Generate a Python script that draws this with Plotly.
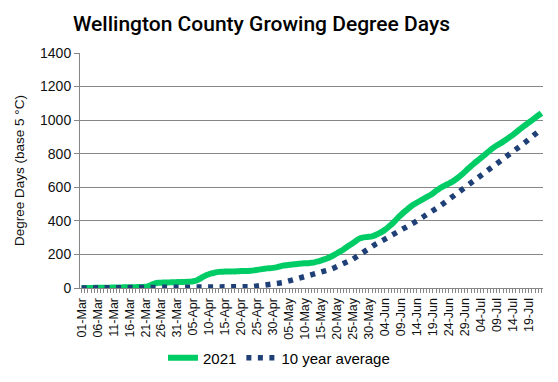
import plotly.graph_objects as go
import pandas as pd

# Categories: daily from 01-Mar to 23-Jul
dates = pd.date_range("2021-03-01", "2021-07-23", freq="D")
categories = [d.strftime("%d-%b") for d in dates]

# 2021 cumulative growing degree days (base 5 C)
gdd_2021 = [
    0, 0, 0, 0, 1, 1, 1, 2, 2, 2, 3, 3, 3, 4, 4, 5, 5, 5, 6, 6, 7,
    12, 20, 27, 31, 32, 33, 33, 34, 34, 35, 35, 36, 37, 38, 40, 45, 55, 66, 76,
    83, 88, 93, 96, 97, 98, 98, 99, 99, 100, 101, 101, 102, 103, 105, 108, 111, 114, 117, 118,
    120, 123, 128, 133, 136, 138, 140, 142, 144, 146, 147, 148, 150, 153, 158, 164, 170, 177, 186, 196,
    207, 218, 230, 243, 256, 268, 282, 294, 300, 303, 305, 308, 315, 324, 334, 347, 362, 378, 397, 417,
    435, 452, 468, 484, 497, 509, 519, 530, 541, 551, 563, 578, 592, 603, 613, 622, 632, 645, 659, 675,
    692, 710, 727, 743, 759, 774, 789, 806, 822, 836, 849, 860, 872, 885, 898, 911, 926, 942, 957, 971,
    985, 999, 1013, 1028, 1042,
]

# 10 year average cumulative growing degree days
gdd_avg = [
    0, 0, 0, 0, 0, 0, 0, 0, 0, 0, 0, 0, 0, 0, 0, 0, 0, 0, 0, 0,
    0, 0, 0, 0, 0, 0, 1, 1, 1, 1, 1, 1, 1, 1, 1, 1, 1, 1,
    1, 2, 2, 2, 2, 2, 3, 3, 3, 3, 4, 4, 5, 6, 7, 8, 9, 11, 12, 14, 15, 17,
    19, 23, 27, 32, 37, 42, 47, 52, 58, 63, 68, 73, 77, 81, 85, 89, 96, 104, 111, 119,
    127, 135, 143, 152, 162, 172, 185, 199, 213, 226, 238, 250, 260, 270, 280, 290, 299, 309, 319, 329,
    339, 350, 362, 375, 388, 400, 411, 422, 432, 445, 458, 471, 485, 499, 513, 526, 540, 553, 567, 581,
    595, 608, 621, 634, 648, 663, 677, 692, 707, 722, 737, 752, 766, 780, 795, 810, 824, 839, 854, 869,
    884, 900, 915, 931, 947,
]

y_ticks = [0, 200, 400, 600, 800, 1000, 1200, 1400]
tick_text = [c if i % 5 == 0 else "" for i, c in enumerate(categories)]

fig = go.Figure()
fig.add_trace(go.Scatter(
    x=categories, y=gdd_2021, name="2021", mode="lines",
    line=dict(color="#00cc66", width=6, shape="spline", smoothing=0.6),
))
fig.add_trace(go.Scatter(
    x=categories, y=gdd_avg, name="10 year average", mode="lines",
    line=dict(color="#1f3f77", width=5.5, dash="5px,6.5px"),
))

fig.update_layout(
    width=558, height=382,
    margin=dict(l=80, r=15, t=53, b=94, autoexpand=False),
    paper_bgcolor="white", plot_bgcolor="white",
    font=dict(family="Liberation Sans, Arial, sans-serif", color="#111111"),
    title=dict(
        text="Wellington County Growing Degree Days",
        font=dict(family="Roboto, Liberation Sans, sans-serif", size=21, color="#000000", weight=500),
        x=0.4686, xanchor="center", xref="container",
        y=1 - 24 / 382, yanchor="middle", yref="container",
    ),
    showlegend=True,
    legend=dict(
        orientation="h", xref="container", x=0.5, xanchor="center",
        yref="container", y=1 - 358 / 382, yanchor="middle",
        font=dict(size=15, color="#000000"),
        tracegroupgap=0,
    ),
)
fig.update_xaxes(
    type="category", range=[-0.5, len(categories) - 0.5], automargin=False,
    tickmode="array", tickvals=categories, ticktext=tick_text,
    tickangle=-90, tickfont=dict(size=12.5),
    ticks="outside", ticklen=4, tickcolor="#868686", tickwidth=1,
    showline=True, linecolor="#868686", linewidth=1,
    showgrid=False, zeroline=False,
)
fig.update_yaxes(
    range=[0, 1400], tickmode="array", tickvals=y_ticks, tickformat="d", automargin=False,
    tickfont=dict(size=14),
    ticks="outside", ticklen=5, tickcolor="#868686",
    showline=True, linecolor="#868686", linewidth=1,
    showgrid=True, gridcolor="#868686", gridwidth=1, zeroline=False,
    title=dict(text="Degree Days (base 5 °C)", font=dict(size=13.5), standoff=12),
)

fig.write_html("out.html", config={"displayModeBar": False},
               post_script="document.body.style.margin='0';")
